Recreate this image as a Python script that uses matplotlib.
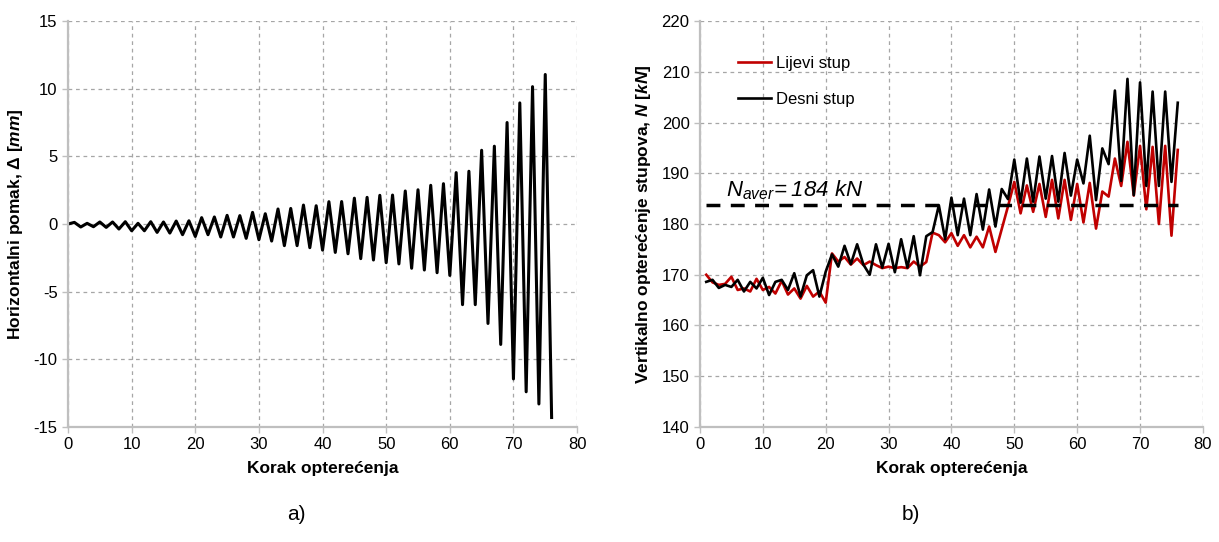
import matplotlib.pyplot as plt
import numpy as np

plt.rcParams['font.family'] = ['Liberation Sans', 'DejaVu Sans']
plt.rcParams['axes.unicode_minus'] = False
plt.rcParams['mathtext.fontset'] = 'custom'
plt.rcParams['mathtext.it'] = 'Liberation Sans:italic:bold'
plt.rcParams['mathtext.rm'] = 'Liberation Sans:bold'
plt.rcParams['mathtext.sf'] = 'Liberation Sans:italic'

# a) horizontal displacement per load step
steps_a = np.arange(0, 77)
pomak = [0.0, 0.12, -0.22, 0.05, -0.2, 0.15, -0.25, 0.15, -0.37, 0.17,
         -0.5, 0.05, -0.5, 0.17, -0.62, 0.15, -0.67, 0.22, -0.79, 0.24,
         -0.92, 0.47, -0.79, 0.52, -0.96, 0.64, -0.96, 0.62, -1.06, 0.86,
         -1.16, 0.76, -1.26, 1.11, -1.6, 1.15, -1.6, 1.4, -1.75, 1.35,
         -1.93, 1.65, -2.1, 1.66, -2.2, 1.91, -2.56, 1.97, -2.66, 2.12,
         -2.86, 2.14, -2.95, 2.44, -3.27, 2.53, -3.4, 2.86, -3.6, 2.98,
         -3.8, 3.8, -5.96, 3.9, -5.96, 5.45, -7.35, 5.75, -8.9, 7.5,
         -11.45, 8.95, -12.4, 10.15, -13.3, 11.05, -14.3]

# b) column axial forces
steps_b = np.arange(1, 77)
lijevi = [170.0, 168.5, 168.0, 168.2, 169.6, 167.0, 167.3, 166.7, 169.2, 167.0,
          167.6, 166.3, 168.8, 166.1, 167.3, 165.3, 167.8, 165.7, 166.7, 164.5,
          174.2, 172.6, 173.5, 172.0, 173.2, 171.9, 172.6, 171.9, 171.3, 171.6,
          171.3, 171.5, 171.3, 172.6, 171.6, 172.5, 178.3, 177.8, 176.4, 178.2,
          175.7, 177.8, 175.4, 177.5, 175.4, 179.5, 174.5, 179.0, 183.5, 188.3,
          182.1, 187.6, 182.4, 187.9, 181.4, 188.7, 181.1, 188.7, 180.8, 187.9,
          180.3, 188.1, 179.1, 186.4, 185.4, 192.9, 187.5, 196.2, 185.6, 195.4,
          182.9, 195.2, 180.0, 195.4, 177.7, 194.6]
desni = [168.6, 169.0, 167.4, 168.0, 167.6, 169.0, 166.7, 168.6, 167.3, 169.4,
         166.0, 168.6, 169.0, 167.0, 170.3, 165.7, 169.9, 170.9, 165.7, 170.6,
         174.0, 171.6, 175.7, 172.1, 176.0, 172.0, 170.0, 176.0, 171.4, 176.1,
         170.5, 177.0, 171.4, 177.6, 169.9, 177.6, 178.4, 183.7, 177.0, 185.2,
         177.8, 185.0, 177.8, 185.9, 178.9, 186.8, 179.5, 186.9, 184.9, 192.7,
         184.2, 192.9, 184.4, 193.3, 185.0, 193.4, 184.4, 194.0, 185.6, 192.7,
         188.0, 197.4, 184.7, 194.9, 191.8, 206.3, 188.5, 208.6, 185.7, 207.9,
         187.5, 206.1, 187.5, 206.1, 188.3, 203.9]
n_aver = 183.7

grid_kw = dict(color='#a6a6a6', linestyle=(0, (3, 3)), linewidth=0.9)


def style_axes(ax):
    ax.grid(True, **grid_kw)
    ax.set_axisbelow(True)
    for s in ['top', 'right']:
        ax.spines[s].set_visible(False)
    for s in ['left', 'bottom']:
        ax.spines[s].set_color('#bfbfbf')
        ax.spines[s].set_linewidth(1.6)
    ax.tick_params(colors='#bfbfbf', labelcolor='black', labelsize=12,
                   length=4, width=1)
    ax.set_xlim(0, 80)
    ax.set_xticks(range(0, 81, 10))
    ax.set_xlabel('Korak opterećenja', fontsize=12.5, fontweight='bold',
                  labelpad=6)


fig = plt.figure(figsize=(12.19, 5.42), dpi=100)
ax1 = fig.add_axes([0.0558, 0.2122, 0.4176, 0.749])
ax2 = fig.add_axes([0.5742, 0.2122, 0.4126, 0.749])

# a)
style_axes(ax1)
ax1.plot(steps_a, pomak, color='black', linewidth=2.2)
ax1.set_ylim(-15, 15)
ax1.set_yticks(range(-15, 16, 5))
ax1.set_ylabel(r'Horizontalni pomak, $\mathit{Δ}$ $[\mathit{mm}]$',
               fontsize=12.5, fontweight='bold', labelpad=6)

# b)
style_axes(ax2)
ax2.plot(steps_b, lijevi, color='#c00000', linewidth=1.9, label='Lijevi stup')
ax2.plot(steps_b, desni, color='black', linewidth=1.9, label='Desni stup')
ax2.plot([steps_b[0], steps_b[-1]], [n_aver, n_aver], color='black',
         linewidth=2.5, linestyle=(0, (4, 3)))
ax2.text(4.2, 185.4, r'$\mathsf{N_{aver}\!{=}184\ kN}$', fontsize=16)
ax2.set_ylim(140, 220)
ax2.set_yticks(range(140, 221, 10))
ax2.set_ylabel(r'Vertikalno opterećenje stupova, $\mathit{N}$ $[\mathit{kN}]$',
               fontsize=12.5, fontweight='bold', labelpad=6)
ax2.legend(loc='upper left', bbox_to_anchor=(0.045, 0.95), frameon=False,
           fontsize=12, handlelength=2.0, handletextpad=0.3, labelspacing=1.25)

fig.text(0.243, 0.04, 'a)', fontsize=15, ha='center')
fig.text(0.747, 0.04, 'b)', fontsize=15, ha='center')

fig.savefig('out.png', dpi=100)
